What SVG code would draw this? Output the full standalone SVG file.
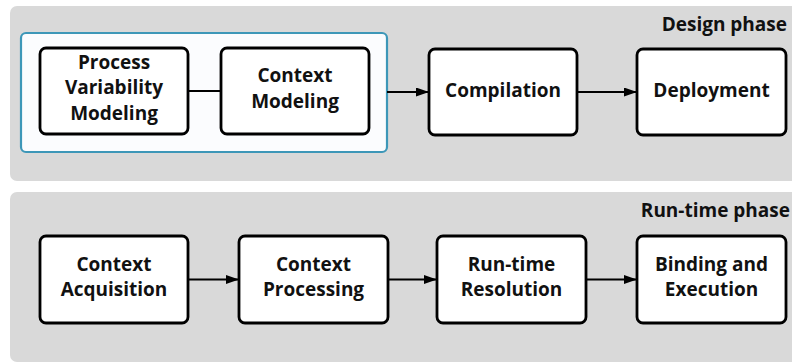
<svg xmlns="http://www.w3.org/2000/svg" width="792" height="363" viewBox="0 0 792 363">
  <style>
    .panel { fill: #d9d9d9; }
    .group { fill: #fbfcfe; stroke: #3d97b8; stroke-width: 2.2; }
    .box { fill: #ffffff; stroke: #000000; stroke-width: 2.8; }
    .lbl { font-family: "Open Sans", "Noto Sans", sans-serif; font-weight: bold; font-size: 19px; fill: #111111; text-anchor: middle; }
    .phase { font-family: "Open Sans", "Noto Sans", sans-serif; font-weight: bold; font-size: 19px; fill: #111111; text-anchor: end; }
    .conn { fill: none; stroke: #000000; stroke-width: 2.2; }
  </style>
  <defs>
    <marker id="arrow" viewBox="0 0 13 9" refX="13" refY="4.5" markerWidth="13" markerHeight="9" markerUnits="userSpaceOnUse" orient="auto">
      <path d="M0,0 L13,4.5 L0,9 Z" fill="#000000"/>
    </marker>
  </defs>

  <!-- phase panels -->
  <g id="design-phase">
    <rect class="panel" x="10" y="6" width="800" height="175" rx="7"/>
    <text class="phase" x="787" y="31">Design phase</text>
  </g>
  <g id="runtime-phase">
    <rect class="panel" x="10" y="192" width="800" height="170" rx="7"/>
    <text class="phase" x="790" y="217">Run-time phase</text>
  </g>

  <!-- modeling group -->
  <g id="modeling-group">
    <rect class="group" x="21" y="33" width="366" height="119" rx="5"/>
  </g>

  <!-- connectors -->
  <g id="connectors">
    <line class="conn" x1="188" y1="91" x2="221" y2="91"/>
    <line class="conn" x1="387" y1="92" x2="429" y2="92" marker-end="url(#arrow)"/>
    <line class="conn" x1="577" y1="92" x2="637" y2="92" marker-end="url(#arrow)"/>
    <line class="conn" x1="188" y1="279.5" x2="239" y2="279.5" marker-end="url(#arrow)"/>
    <line class="conn" x1="388" y1="279.5" x2="437" y2="279.5" marker-end="url(#arrow)"/>
    <line class="conn" x1="586" y1="279.5" x2="637" y2="279.5" marker-end="url(#arrow)"/>
  </g>

  <!-- design-phase nodes -->
  <g id="process-variability-modeling">
    <rect class="box" x="40" y="48" width="148" height="86" rx="6"/>
    <text class="lbl" x="114" y="68.5">Process</text>
    <text class="lbl" x="114" y="94">Variability</text>
    <text class="lbl" x="114" y="119.5">Modeling</text>
  </g>
  <g id="context-modeling">
    <rect class="box" x="221" y="48" width="148" height="86" rx="6"/>
    <text class="lbl" x="295" y="81.7">Context</text>
    <text class="lbl" x="295" y="107.5">Modeling</text>
  </g>
  <g id="compilation">
    <rect class="box" x="429" y="49" width="148" height="86" rx="6"/>
    <text class="lbl" x="503" y="97">Compilation</text>
  </g>
  <g id="deployment">
    <rect class="box" x="637" y="49" width="149" height="86" rx="6"/>
    <text class="lbl" x="711.5" y="97">Deployment</text>
  </g>

  <!-- run-time-phase nodes -->
  <g id="context-acquisition">
    <rect class="box" x="40" y="236" width="148" height="87" rx="6"/>
    <text class="lbl" x="114" y="271">Context</text>
    <text class="lbl" x="114" y="296">Acquisition</text>
  </g>
  <g id="context-processing">
    <rect class="box" x="239" y="236" width="149" height="87" rx="6"/>
    <text class="lbl" x="313.5" y="271">Context</text>
    <text class="lbl" x="313.5" y="296">Processing</text>
  </g>
  <g id="runtime-resolution">
    <rect class="box" x="437" y="236" width="149" height="87" rx="6"/>
    <text class="lbl" x="511.5" y="271">Run-time</text>
    <text class="lbl" x="511.5" y="296">Resolution</text>
  </g>
  <g id="binding-execution">
    <rect class="box" x="637" y="236" width="149" height="87" rx="6"/>
    <text class="lbl" x="711.5" y="271">Binding and</text>
    <text class="lbl" x="711.5" y="296">Execution</text>
  </g>
</svg>
